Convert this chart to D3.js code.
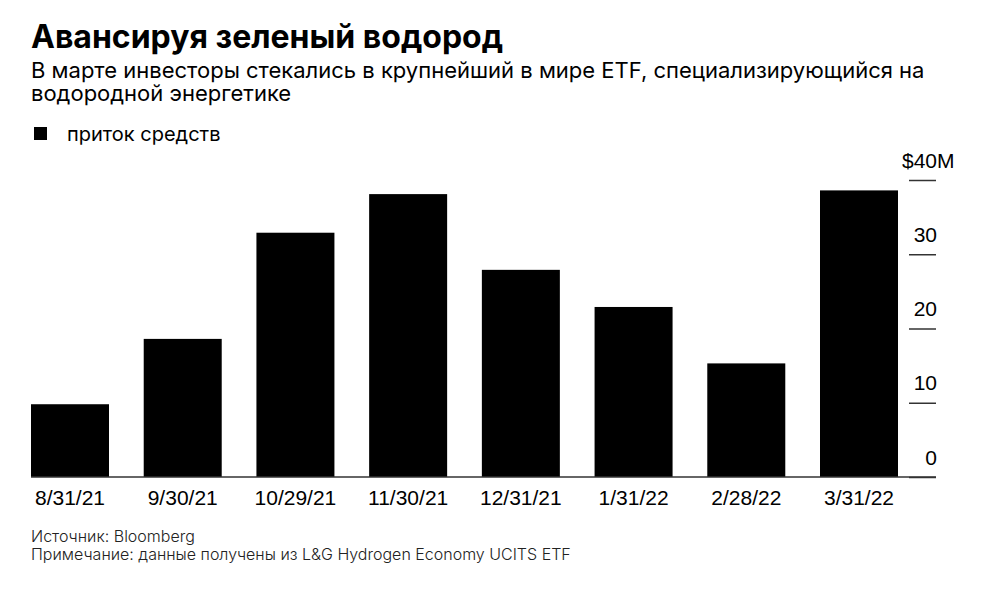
<!DOCTYPE html>
<html>
<head>
<meta charset="utf-8">
<script src="https://cdn.jsdelivr.net/npm/d3@7"></script>
<style>
  body { margin: 0; background: #fff; }
  svg { display: block; }
</style>
</head>
<body>
<div id="container"></div>
<script>
/* CONSTANTS AND GLOBALS */
const width = 997,
  height = 597,
  margin = { top: 180, bottom: 120, left: 31, right: 99 };

/* DATA */
const dates = ["8/31/21", "9/30/21", "10/29/21", "11/30/21", "12/31/21", "1/31/22", "2/28/22", "3/31/22"];
const inflows = [9.8, 18.6, 32.9, 38.1, 27.9, 22.9, 15.3, 38.6];
const yTicks = [0, 10, 20, 30, 40];

const svg = d3.select("#container")
  .append("svg")
  .attr("width", width)
  .attr("height", height);

// title block
svg.append("text")
  .attr("x", 31).attr("y", 48)
  .attr("font-family", "Inter, sans-serif")
  .attr("font-weight", 700)
  .attr("font-size", "32px")
  .attr("fill", "#000")
  .text("Авансируя зеленый водород");

// subtitle as one paragraph, two lines
const subtitle = ["В марте инвесторы стекались в крупнейший в мире ETF, специализирующийся на",
  "водородной энергетике"];
svg.append("text")
  .attr("y", 78)
  .attr("font-family", "Inter, sans-serif")
  .attr("font-size", "22px")
  .attr("fill", "#000")
  .selectAll("tspan")
  .data(subtitle)
  .join("tspan")
  .attr("x", 31)
  .attr("dy", (d, i) => i === 0 ? 0 : 23)
  .text(d => d);

// legend
svg.append("rect")
  .attr("x", 34).attr("y", 127)
  .attr("width", 13).attr("height", 13)
  .attr("fill", "#000");
svg.append("text")
  .attr("x", 67).attr("y", 141)
  .attr("font-family", "Inter, sans-serif")
  .attr("font-size", "20px")
  .attr("fill", "#000")
  .text("приток средств");

/* SCALES */
const xScale = d3.scaleBand()
  .domain(dates)
  .range([margin.left, 898])
  .paddingInner(0.308)
  .paddingOuter(0);

const yScale = d3.scaleLinear()
  .domain([0, 40])
  .range([height - margin.bottom, margin.top]);

// bars
svg.selectAll("rect.bar")
  .data(inflows)
  .join("rect")
  .attr("class", "bar")
  .attr("x", (d, i) => xScale(dates[i]))
  .attr("y", d => yScale(d))
  .attr("width", xScale.bandwidth())
  .attr("height", d => yScale(0) - yScale(d))
  .attr("fill", "#000");

// y axis on the right
const axisX = 936;
const labelFont = "'Liberation Sans', Arial, sans-serif";
const yAxis = d3.axisLeft(yScale)
  .tickValues(yTicks)
  .tickSize(27)
  .tickFormat(d => d);
const yG = svg.append("g")
  .attr("transform", `translate(${axisX},0)`)
  .call(yAxis);
yG.select(".domain").remove();
yG.selectAll(".tick line")
  .attr("stroke", "#333")
  .attr("stroke-width", 1.5);
yG.selectAll(".tick text")
  .attr("x", 1)
  .attr("dy", -13)
  .attr("text-anchor", "end")
  .attr("font-family", labelFont)
  .attr("font-size", "21px")
  .attr("fill", "#000");

// "$" and "M" around the top label
const topTick = yG.selectAll(".tick").filter(d => d === 40);
const numW = topTick.select("text").node().getComputedTextLength();
topTick.append("text")
  .attr("x", 1 - numW).attr("dy", -13)
  .attr("text-anchor", "end")
  .attr("font-family", labelFont)
  .attr("font-size", "21px")
  .attr("fill", "#000")
  .text("$");
topTick.append("text")
  .attr("x", 1).attr("dy", -13)
  .attr("text-anchor", "start")
  .attr("font-family", labelFont)
  .attr("font-size", "21px")
  .attr("fill", "#000")
  .text("M");

// x axis
const xAxis = d3.axisBottom(xScale).tickSize(0);
const xG = svg.append("g")
  .attr("transform", `translate(0,${yScale(0)})`)
  .call(xAxis);
xG.select(".domain").remove();
xG.selectAll(".tick text")
  .attr("y", 28)
  .attr("dy", 0)
  .attr("font-family", labelFont)
  .attr("font-size", "21px")
  .attr("fill", "#000");

// baseline
svg.append("line")
  .attr("x1", margin.left).attr("x2", axisX)
  .attr("y1", yScale(0)).attr("y2", yScale(0))
  .attr("stroke", "#333")
  .attr("stroke-width", 1.5);

// footnotes
const notes = ["Источник: Bloomberg", "Примечание: данные получены из L&G Hydrogen Economy UCITS ETF"];
svg.append("text")
  .attr("y", 542)
  .attr("font-family", "Inter, sans-serif")
  .attr("font-weight", 300)
  .attr("font-size", "16px")
  .attr("fill", "#222")
  .selectAll("tspan")
  .data(notes)
  .join("tspan")
  .attr("x", 31)
  .attr("dy", (d, i) => i === 0 ? 0 : 18)
  .text(d => d);
</script>
</body>
</html>
